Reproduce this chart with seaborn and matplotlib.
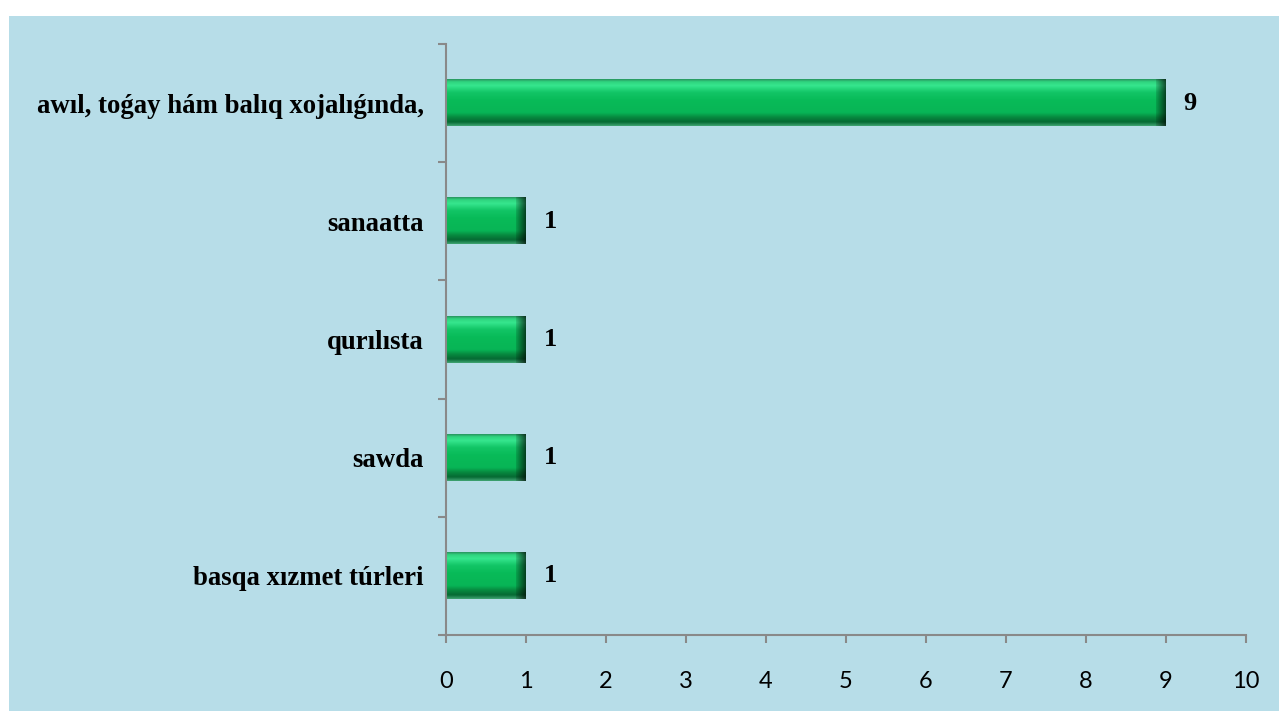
import numpy as np
import pandas as pd
import matplotlib
matplotlib.use('Agg')
import matplotlib.pyplot as plt
import matplotlib.colors as mcolors
from matplotlib.patches import Rectangle
import seaborn as sns

sns.set_style('white')

# data
sectors = ['awıl, toǵay hám balıq xojalıǵında,', 'sanaatta', 'qurılısta',
           'sawda', 'basqa xızmet túrleri']
counts = [9, 1, 1, 1, 1]
x_ticks = list(range(0, 11))

df = pd.DataFrame({'sector': sectors, 'count': counts})

bg = '#b7dde8'
axis_grey = '#898989'
serif = ['Liberation Serif', 'DejaVu Serif']


# green bar with a bevelled look, built as an rgb array
def bevel_image(nx, ny):
    t = np.linspace(0, 1, ny)
    stops = [0, 0.05, 0.13, 0.28, 0.45, 0.72, 0.82, 0.92, 1.0]
    cols = ['#2a9d63', '#2fd47f', '#36e68e', '#12c566', '#08bb58',
            '#08b556', '#07893f', '#056a33', '#3a9e6c']
    rgb = np.array([mcolors.to_rgb(c) for c in cols])
    prof = np.stack([np.interp(t, stops, rgb[:, k]) for k in range(3)], axis=1)
    img = np.repeat(prof[:, None, :], nx, axis=1)
    # darker end on the right
    b = min(10, nx // 4)
    fac = np.ones(nx)
    fac[nx - b:] = np.linspace(0.85, 0.35, b)
    img = img * fac[None, :, None]
    return np.clip(img, 0, 1)


fig = plt.figure(figsize=(12.79, 7.11), dpi=100)
fig.patch.set_facecolor('white')
fig.patches.append(Rectangle((9 / 1279, 0), 1, 1 - 16 / 711, transform=fig.transFigure,
                             facecolor=bg, edgecolor='none', zorder=-10))

ax = fig.add_axes([446 / 1279, 1 - 635 / 711, 800 / 1279, 591 / 711])
ax.set_zorder(1)
ax.set_facecolor('none')

sns.barplot(data=df, y='sector', x='count', orient='h', color='#08bb58',
            width=0.39, ax=ax)

ax.set_xlim(0, 10)
ax.set_ylim(len(sectors) - 0.5, -0.5)

# replace flat bars by the bevel image
fig.canvas.draw()
for p in ax.patches:
    x0, y0, w, h = p.get_x(), p.get_y(), p.get_width(), p.get_height()
    (px0, py0), (px1, py1) = ax.transData.transform([(x0, y0), (x0 + w, y0 + h)])
    nx = max(int(abs(px1 - px0)), 4)
    ny = max(int(abs(py1 - py0)), 4)
    ax.imshow(bevel_image(nx, ny), extent=(x0, x0 + w, y0 + h, y0), origin='upper',
              aspect='auto', interpolation='bilinear', zorder=2)
    p.set_visible(False)
ax.set_xlim(0, 10)
ax.set_ylim(len(sectors) - 0.5, -0.5)

for i, v in enumerate(counts):
    ax.text(v + 0.22, i, str(v), va='center', ha='left', fontsize=19,
            fontweight='bold', family=serif, color='black')

ax.set_xticks(x_ticks)
ax.set_xticklabels([str(v) for v in x_ticks], family=['Lato', 'DejaVu Sans'],
                   fontsize=17, color='black')
ax.set_yticks(range(len(sectors)))
ax.set_yticklabels(sectors, family=serif, fontweight='bold', fontsize=19.3,
                   color='black')
ax.set_yticks(np.arange(-0.5, len(sectors), 1), minor=True)
ax.tick_params(axis='y', which='major', left=True, length=0, pad=16)
ax.tick_params(axis='y', which='minor', left=True, length=6, width=1.5,
               color=axis_grey, direction='out')
ax.tick_params(axis='x', which='major', bottom=True, length=6, width=1.5,
               color=axis_grey, direction='out', pad=20)
ax.set_xlabel('')
ax.set_ylabel('')

sns.despine(ax=ax)
for s in ['left', 'bottom']:
    ax.spines[s].set_color(axis_grey)
    ax.spines[s].set_linewidth(1.5)
    ax.spines[s].set_zorder(3)

fig.savefig('out.png', dpi=100, facecolor=fig.get_facecolor())
